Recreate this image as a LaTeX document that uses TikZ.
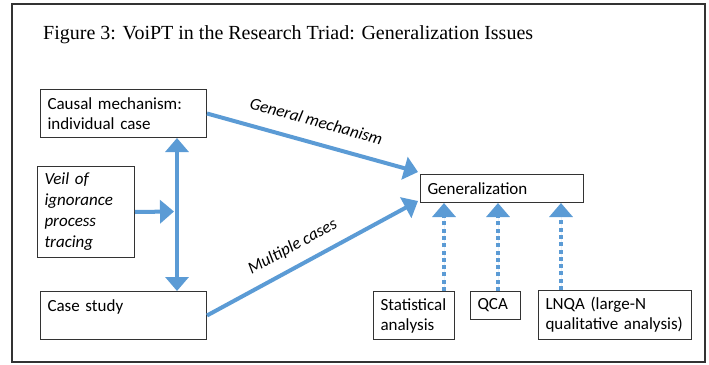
\documentclass[tikz,border=0pt]{standalone}
\usepackage{fontspec}
\setmainfont{Carlito}
\newfontfamily\titlefont{Liberation Serif}
\usetikzlibrary{arrows.meta,calc}
\definecolor{arrblue}{HTML}{5B9BD5}
\definecolor{framegray}{HTML}{333333}
\begin{document}
\begin{tikzpicture}[x=1pt,y=-1pt,
  >={Triangle[width=23pt,length=14pt]},
  box/.style={draw=framegray, line width=1pt, anchor=north west, inner xsep=7pt, inner ysep=0pt, align=left, font=\fontsize{17}{20}\selectfont},
  flow/.style={draw=arrblue, fill=arrblue, line width=4pt, ->},
  dotflow/.style={flow, dash pattern=on 4pt off 3.3pt},
  lbl/.style={font=\fontsize{17}{20}\selectfont\itshape, sloped, inner sep=1pt}]
\useasboundingbox (0,0) rectangle (709,364);
\draw[line width=2.5pt, draw=framegray] (12,4) rectangle (705,362);
\node[anchor=base west, inner sep=0pt, font=\titlefont\fontsize{20}{24}\selectfont] (title) at (43,39.5) {Figure 3: VoiPT in the Research Triad: Generalization Issues};

\node[box, text width=152pt, minimum height=48pt] (cm) at (40,89) {Causal mechanism:\\individual case};
\node[box, text width=83pt, minimum height=91pt, font=\fontsize{17}{21}\selectfont\itshape] (veil) at (37,166) {Veil of\\ignorance\\process\\tracing};
\node[box, text width=152pt, minimum height=48pt] (cs) at (40,291) {Case study\\\mbox{}};
\node[box, text width=149pt, minimum height=28pt] (gen) at (420,174) {Generalization};
\node[box, text width=67pt, minimum height=48pt] (sa) at (373,291) {Statistical\\analysis};
\node[box, text width=36pt, minimum height=28pt] (qca) at (470,291) {QCA};
\node[box, text width=139pt, minimum height=49pt] (lnqa) at (538,290) {LNQA (large-N\\qualitative analysis)};

\coordinate (vx) at (177,211.5);
\coordinate (d1) at (444,0);
\coordinate (d2) at (498,0);
\coordinate (d3) at (561,0);

\draw[flow, <->] (cm.south -| vx) -- (cs.north -| vx);
\draw[flow] (veil.east) -- ([xshift=-3pt]vx);
\draw[flow] (cm.east) -- ([shift={(-2,-2)}]gen.north west)
  node[lbl, pos=0.49, above=13pt] {General mechanism};
\draw[flow] (cs.east) -- ([shift={(-2,-2)}]gen.south west)
  node[lbl, pos=0.45, above=9pt] {Multiple cases};

\draw[dotflow] (sa.north -| d1) -- (gen.south -| d1);
\draw[dotflow] (qca.north -| d2) -- (gen.south -| d2);
\draw[dotflow] (lnqa.north -| d3) -- (gen.south -| d3);
\end{tikzpicture}
\end{document}
